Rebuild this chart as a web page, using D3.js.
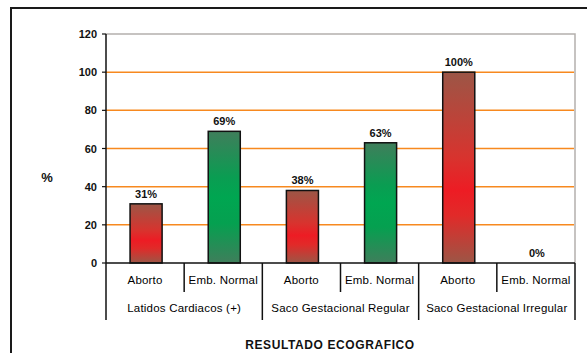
<!DOCTYPE html>
<html lang="es">
<head>
<meta charset="UTF-8">
<title>Resultado ecografico</title>
<script src="https://cdn.jsdelivr.net/npm/d3@7"></script>
<style>
  body { margin: 0; background: #fff; }
  text { font-family: "Liberation Sans", Arial, sans-serif; fill: #111; }
  .tick-lbl { font-size: 11px; font-weight: bold; }
  .val { font-size: 11px; font-weight: bold; text-anchor: middle; }
  .cat { font-size: 11.5px; text-anchor: middle; fill: #000; letter-spacing: 0.2px; }
</style>
</head>
<body>
<div id="chart"></div>
<script>
// datos
const groups = ["Latidos Cardiacos (+)", "Saco Gestacional Regular", "Saco Gestacional Irregular"];
const subCats = ["Aborto", "Emb. Normal"];
const values = [31, 69, 38, 63, 100, 0];
const yTicks = [0, 20, 40, 60, 80, 100, 120];

const width = 587, height = 353;
const plot = { left: 106, right: 575, top: 34, bottom: 263 };

const svg = d3.select("#chart").append("svg")
    .attr("width", width)
    .attr("height", height);

// gradientes
const defs = svg.append("defs");
function grad(id, stops) {
    const g = defs.append("linearGradient").attr("id", id)
        .attr("x1", 0).attr("y1", 0).attr("x2", 0).attr("y2", 1);
    stops.forEach(s => g.append("stop").attr("offset", s[0]).attr("stop-color", s[1]));
}
grad("gRed", [[0, "#9c5646"], [0.45, "#d8332e"], [0.62, "#ed1c24"], [0.75, "#e12a29"], [1, "#9c5646"]]);
grad("gGreen", [[0, "#3f7e5b"], [0.35, "#0a9d52"], [0.5, "#00a651"], [0.7, "#05a050"], [1, "#3f7e5b"]]);

// marco exterior
svg.append("path")
    .attr("d", `M11,${height} V8 H${width}`)
    .attr("fill", "none")
    .attr("stroke", "#1a1a1a")
    .attr("stroke-width", 2);

const rows = [];
groups.forEach((g, gi) => subCats.forEach((s, si) => rows.push({ group: g, sub: s, gi, si, value: values[gi * 2 + si] })));

const x = d3.scaleBand()
    .domain(d3.range(rows.length))
    .range([plot.left, plot.right]);

const xg = d3.scaleBand()
    .domain(groups)
    .range([plot.left, plot.right]);

const y = d3.scaleLinear()
    .domain([0, 120])
    .range([plot.bottom, plot.top]);

// borde del area
svg.append("path")
    .attr("d", `M${plot.left},${plot.top} H${plot.right} V${plot.bottom}`)
    .attr("fill", "none")
    .attr("stroke", "#b4b0ad")
    .attr("stroke-width", 1.5);

// rejilla
svg.selectAll(".grid")
    .data(yTicks.filter(t => t > 0 && t < 120))
    .enter().append("line")
    .attr("x1", plot.left).attr("x2", plot.right - 1)
    .attr("y1", d => y(d)).attr("y2", d => y(d))
    .attr("stroke", "#f7891f")
    .attr("stroke-width", 1.5);

// barras
const bw = x.bandwidth() * 0.41;
svg.selectAll(".bar")
    .data(rows)
    .enter().append("rect")
    .attr("x", (d, i) => x(i) + x.bandwidth() / 2 - bw / 2 + 1)
    .attr("y", d => y(d.value))
    .attr("width", bw)
    .attr("height", d => y(0) - y(d.value))
    .attr("fill", d => d.si === 0 ? "url(#gRed)" : "url(#gGreen)")
    .attr("stroke", "#111")
    .attr("stroke-width", 1.5)
    .style("display", d => d.value > 0 ? null : "none");

svg.selectAll(".val")
    .data(rows)
    .enter().append("text")
    .attr("class", "val")
    .attr("x", (d, i) => x(i) + x.bandwidth() / 2 + 1)
    .attr("y", d => y(d.value) - 6)
    .text(d => d.value + "%");

// eje y
const yAxis = svg.append("g");
yAxis.append("line")
    .attr("x1", plot.left).attr("x2", plot.left)
    .attr("y1", plot.top).attr("y2", 320)
    .attr("stroke", "#111").attr("stroke-width", 1.5);
yAxis.selectAll(".yt")
    .data(yTicks)
    .enter().append("line")
    .attr("x1", plot.left - 4).attr("x2", plot.left)
    .attr("y1", d => y(d)).attr("y2", d => y(d))
    .attr("stroke", "#111").attr("stroke-width", 1.2);
yAxis.selectAll(".tick-lbl")
    .data(yTicks)
    .enter().append("text")
    .attr("class", "tick-lbl")
    .attr("x", plot.left - 9)
    .attr("y", d => y(d) + 4)
    .attr("text-anchor", "end")
    .text(d => d);

svg.append("text")
    .attr("x", 47).attr("y", 182)
    .attr("text-anchor", "middle")
    .style("font-size", "13px")
    .style("font-weight", "bold")
    .text("%");

// eje x
svg.append("line")
    .attr("x1", plot.left).attr("x2", plot.right)
    .attr("y1", y(0)).attr("y2", y(0))
    .attr("stroke", "#111").attr("stroke-width", 1.5);

svg.selectAll(".xdiv")
    .data(d3.range(1, rows.length + 1))
    .enter().append("line")
    .attr("x1", i => i === rows.length ? plot.right : x(i))
    .attr("x2", i => i === rows.length ? plot.right : x(i))
    .attr("y1", y(0))
    .attr("y2", i => i % 2 === 0 ? 320 : 292)
    .attr("stroke", "#111").attr("stroke-width", 1.5);

svg.selectAll(".cat-sub")
    .data(rows)
    .enter().append("text")
    .attr("class", "cat")
    .attr("x", (d, i) => x(i) + x.bandwidth() / 2)
    .attr("y", 284)
    .text(d => d.sub);

svg.selectAll(".cat-grp")
    .data(groups)
    .enter().append("text")
    .attr("class", "cat")
    .attr("x", d => xg(d) + xg.bandwidth() / 2)
    .attr("y", 312)
    .text(d => d);

svg.append("text")
    .attr("x", 330).attr("y", 349)
    .attr("text-anchor", "middle")
    .style("font-size", "12px")
    .style("font-weight", "bold")
    .style("letter-spacing", "0.6px")
    .text("RESULTADO ECOGRAFICO");
</script>
</body>
</html>
